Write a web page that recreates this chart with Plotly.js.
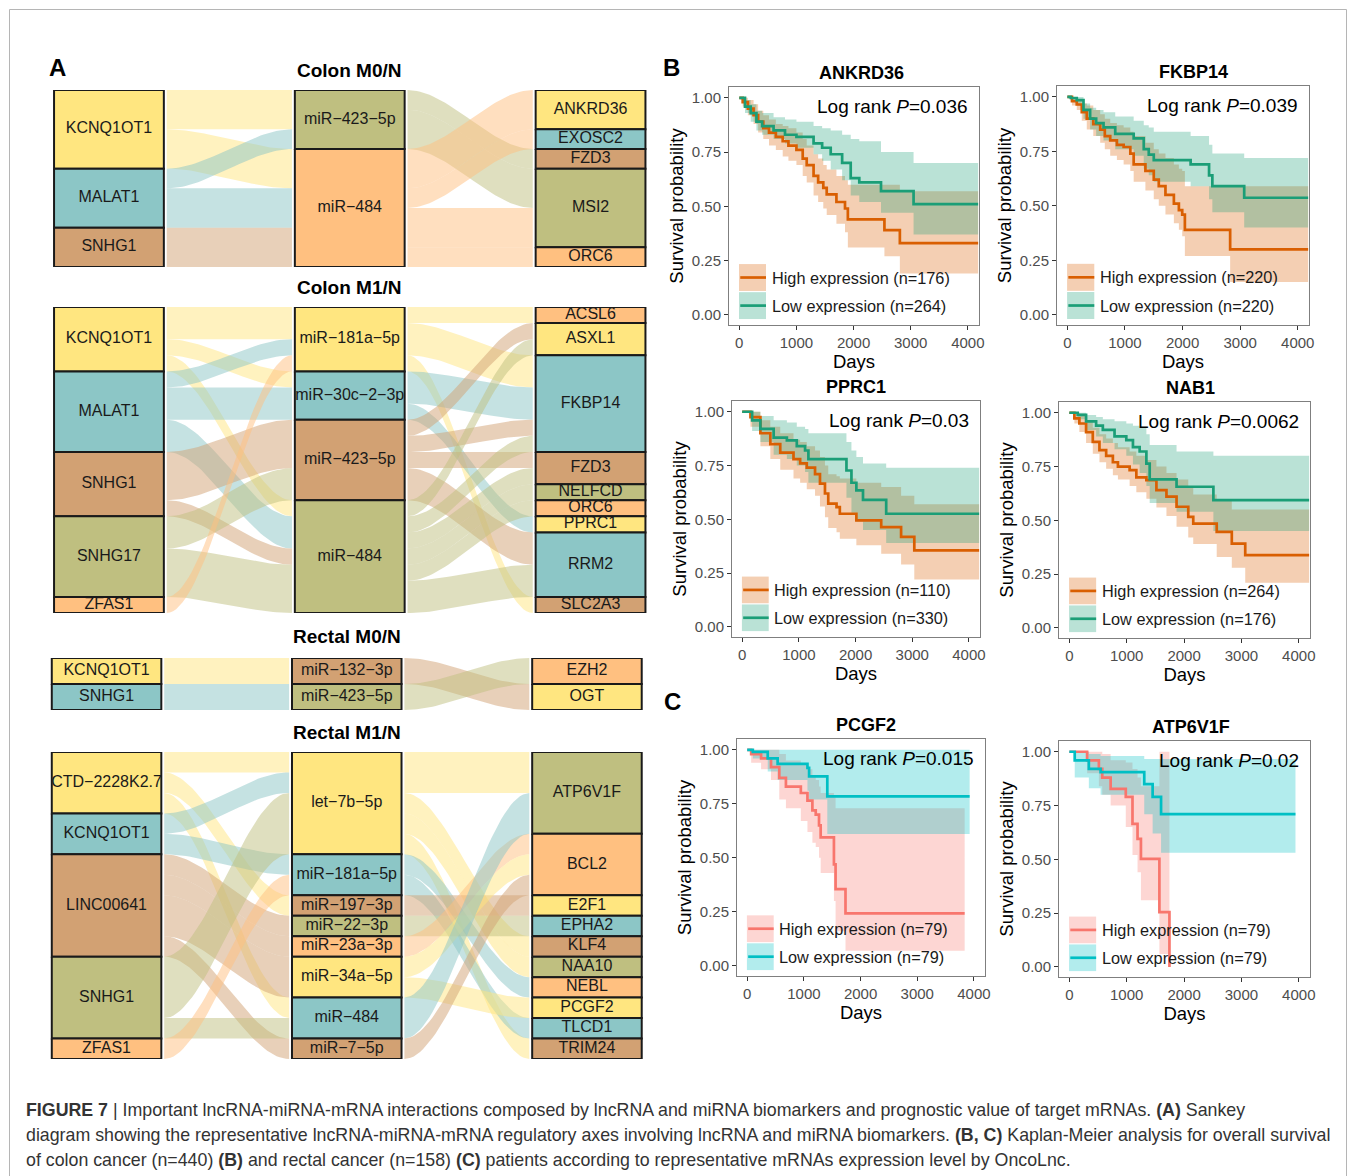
<!DOCTYPE html>
<html><head><meta charset="utf-8">
<script src="https://cdn.plot.ly/plotly-3.0.1.min.js"></script>
<style>body{margin:0;background:#fff}#chart{width:1357px;height:1176px}</style>
</head><body><div id="chart"></div>
<script>
// ---------------- DATA: Sankey (lncRNA -> miRNA -> mRNA) ----------------
// Colon M0/N
const cm0Lnc = ['KCNQ1OT1','MALAT1','SNHG1'];
const cm0Mir = ['miR−423−5p','miR−484'];
const cm0Mrna = ['ANKRD36','EXOSC2','FZD3','MSI2','ORC6'];
const cm0LncMirFrom = ['KCNQ1OT1','KCNQ1OT1','MALAT1','MALAT1','SNHG1'];
const cm0LncMirTo   = ['miR−423−5p','miR−484','miR−423−5p','miR−484','miR−484'];
const cm0LncMirN    = [2,2,1,2,2];
const cm0MirMrnaFrom = ['miR−423−5p','miR−423−5p','miR−484','miR−484','miR−484','miR−484'];
const cm0MirMrnaTo   = ['FZD3','MSI2','ANKRD36','EXOSC2','MSI2','ORC6'];
const cm0MirMrnaN    = [1,2,2,1,2,1];
// Colon M1/N
const cm1Lnc = ['KCNQ1OT1','MALAT1','SNHG1','SNHG17','ZFAS1'];
const cm1Mir = ['miR−181a−5p','miR−30c−2−3p','miR−423−5p','miR−484'];
const cm1Mrna = ['ACSL6','ASXL1','FKBP14','FZD3','NELFCD','ORC6','PPRC1','RRM2','SLC2A3'];
const cm1LncMirFrom = ['KCNQ1OT1','KCNQ1OT1','KCNQ1OT1','MALAT1','MALAT1','MALAT1','SNHG1','SNHG1','SNHG17','SNHG17','ZFAS1'];
const cm1LncMirTo   = ['miR−181a−5p','miR−30c−2−3p','miR−484','miR−181a−5p','miR−30c−2−3p','miR−484','miR−423−5p','miR−484','miR−423−5p','miR−484','miR−181a−5p'];
const cm1LncMirN    = [2,1,1,1,2,2,3,1,2,3,1];
const cm1MirMrnaFrom = ['miR−181a−5p','miR−181a−5p','miR−181a−5p','miR−30c−2−3p','miR−30c−2−3p','miR−423−5p','miR−423−5p','miR−423−5p','miR−423−5p','miR−484','miR−484','miR−484','miR−484','miR−484','miR−484'];
const cm1MirMrnaTo   = ['ACSL6','FKBP14','SLC2A3','FKBP14','PPRC1','ASXL1','FKBP14','FZD3','RRM2','ASXL1','FKBP14','FZD3','NELFCD','ORC6','RRM2'];
const cm1MirMrnaN    = [1,2,1,2,1,1,1,1,2,1,1,1,1,1,2];
// Rectal M0/N
const rm0Lnc = ['KCNQ1OT1','SNHG1'];
const rm0Mir = ['miR−132−3p','miR−423−5p'];
const rm0Mrna = ['EZH2','OGT'];
const rm0LncMirFrom = ['KCNQ1OT1','SNHG1'];
const rm0LncMirTo   = ['miR−132−3p','miR−423−5p'];
const rm0LncMirN    = [1,1];
const rm0MirMrnaFrom = ['miR−132−3p','miR−423−5p'];
const rm0MirMrnaTo   = ['OGT','EZH2'];
const rm0MirMrnaN    = [1,1];
// Rectal M1/N
const rm1Lnc = ['CTD−2228K2.7','KCNQ1OT1','LINC00641','SNHG1','ZFAS1'];
const rm1Mir = ['let−7b−5p','miR−181a−5p','miR−197−3p','miR−22−3p','miR−23a−3p','miR−34a−5p','miR−484','miR−7−5p'];
const rm1Mrna = ['ATP6V1F','BCL2','E2F1','EPHA2','KLF4','NAA10','NEBL','PCGF2','TLCD1','TRIM24'];
const rm1LncMirFrom = ['CTD−2228K2.7','CTD−2228K2.7','CTD−2228K2.7','KCNQ1OT1','KCNQ1OT1','LINC00641','LINC00641','LINC00641','LINC00641','SNHG1','SNHG1','ZFAS1'];
const rm1LncMirTo   = ['let−7b−5p','miR−197−3p','miR−484','let−7b−5p','miR−181a−5p','miR−22−3p','miR−23a−3p','miR−34a−5p','miR−7−5p','let−7b−5p','miR−484','miR−181a−5p'];
const rm1LncMirN    = [1,1,1,1,1,1,1,2,1,3,1,1];
const rm1MirMrnaFrom = ['let−7b−5p','let−7b−5p','let−7b−5p','let−7b−5p','miR−181a−5p','miR−181a−5p','miR−197−3p','miR−22−3p','miR−23a−3p','miR−34a−5p','miR−34a−5p','miR−484','miR−7−5p'];
const rm1MirMrnaTo   = ['ATP6V1F','KLF4','NAA10','TRIM24','NEBL','TLCD1','E2F1','EPHA2','BCL2','BCL2','PCGF2','ATP6V1F','BCL2'];
const rm1MirMrnaN    = [2,1,1,1,1,1,1,1,1,1,1,2,1];
const sankeyTitles = ['Colon M0/N','Colon M1/N','Rectal M0/N','Rectal M1/N'];

// ---------------- DATA: Kaplan-Meier curves ----------------
const kmGenes = ['ANKRD36','FKBP14','PPRC1','NAB1','PCGF2','ATP6V1F'];
const kmP = ['0.036','0.039','0.03','0.0062','0.015','0.02'];
const kmHighN = [176,220,110,264,79,79];
const kmLowN = [264,220,330,176,79,79];
const xTickVals = [0,1000,2000,3000,4000];
const xTickText = ['0','1000','2000','3000','4000'];
const yTickVals = [0,0.25,0.5,0.75,1];
const yTickText = ['0.00','0.25','0.50','0.75','1.00'];

// ANKRD36
const ankHighT = [0,60,150,250,330,420,520,640,760,860,1000,1110,1180,1300,1380,1470,1530,1700,1850,1900,2540,2810,4180];
const ankHighS = [1.0,0.98,0.95,0.92,0.89,0.86,0.84,0.82,0.80,0.78,0.76,0.72,0.69,0.64,0.61,0.585,0.555,0.52,0.49,0.44,0.39,0.33,0.33];
const ankHighHi = [1.0,1.0,0.99,0.97,0.94,0.92,0.90,0.88,0.87,0.86,0.84,0.81,0.78,0.74,0.72,0.69,0.67,0.64,0.62,0.60,0.60,0.57,0.57];
const ankHighLo = [1.0,0.96,0.92,0.88,0.84,0.81,0.78,0.76,0.73,0.71,0.69,0.64,0.61,0.55,0.52,0.49,0.46,0.42,0.38,0.31,0.27,0.19,0.19];
const ankLowT = [0,100,200,300,400,600,800,1000,1300,1450,1600,1800,1950,2100,2480,3050,4180];
const ankLowS = [1.0,0.96,0.93,0.89,0.87,0.85,0.83,0.82,0.79,0.77,0.74,0.70,0.63,0.61,0.57,0.51,0.51];
const ankLowHi = [1.0,0.99,0.97,0.94,0.93,0.91,0.90,0.89,0.87,0.86,0.85,0.83,0.81,0.80,0.75,0.70,0.70];
const ankLowLo = [1.0,0.93,0.89,0.85,0.83,0.81,0.79,0.77,0.74,0.71,0.67,0.62,0.55,0.52,0.47,0.37,0.37];
// FKBP14
const fkHighT = [0,80,163,250,337,450,570,650,744,860,977,1093,1151,1355,1500,1587,1703,1849,1936,1994,2040,2826,4180];
const fkHighS = [1.0,0.98,0.965,0.93,0.90,0.875,0.85,0.82,0.80,0.78,0.77,0.74,0.69,0.66,0.62,0.59,0.55,0.51,0.48,0.46,0.39,0.30,0.30];
const fkHighHi = [1.0,1.0,0.99,0.97,0.96,0.94,0.92,0.90,0.88,0.87,0.86,0.84,0.82,0.79,0.76,0.74,0.72,0.69,0.67,0.66,0.59,0.59,0.59];
const fkHighLo = [1.0,0.96,0.94,0.89,0.85,0.82,0.79,0.76,0.73,0.71,0.69,0.66,0.61,0.57,0.53,0.50,0.46,0.42,0.39,0.36,0.27,0.15,0.15];
const fkLowT = [0,60,163,280,395,500,628,831,1151,1326,1413,1500,2140,2460,2517,3070,4180];
const fkLowS = [1.0,0.995,0.985,0.94,0.90,0.88,0.86,0.83,0.81,0.76,0.735,0.71,0.69,0.64,0.59,0.537,0.537];
const fkLowHi = [1.0,1.0,1.0,0.97,0.95,0.94,0.93,0.91,0.89,0.87,0.86,0.84,0.82,0.78,0.74,0.72,0.72];
const fkLowLo = [1.0,0.98,0.96,0.90,0.85,0.82,0.80,0.76,0.73,0.67,0.64,0.61,0.59,0.53,0.47,0.40,0.40];
// PPRC1
const ppHighT = [0,146,321,496,671,905,1022,1139,1285,1372,1460,1518,1664,1722,2014,2452,2803,3036,4180];
const ppHighS = [1.0,0.975,0.90,0.85,0.81,0.78,0.76,0.74,0.71,0.666,0.62,0.573,0.557,0.526,0.495,0.464,0.418,0.356,0.356];
const ppHighHi = [1.0,1.0,0.96,0.93,0.90,0.87,0.86,0.84,0.82,0.79,0.75,0.71,0.70,0.69,0.67,0.65,0.61,0.57,0.57];
const ppHighLo = [1.0,0.93,0.84,0.78,0.73,0.69,0.67,0.64,0.61,0.56,0.51,0.46,0.44,0.41,0.38,0.34,0.29,0.22,0.22];
const ppLowT = [0,175,321,555,788,963,1109,1168,1839,1927,2014,2131,2540,4180];
const ppLowS = [1.0,0.96,0.92,0.88,0.867,0.84,0.82,0.78,0.727,0.67,0.635,0.59,0.526,0.526];
const ppLowHi = [1.0,1.0,0.98,0.96,0.95,0.93,0.92,0.90,0.86,0.82,0.79,0.76,0.74,0.74];
const ppLowLo = [1.0,0.91,0.86,0.80,0.78,0.75,0.72,0.67,0.60,0.53,0.49,0.45,0.39,0.39];
// NAB1
const nbHighT = [0,88,175,292,409,525,642,759,847,1051,1168,1343,1518,1693,1869,2073,2160,2569,2832,3066,4180];
const nbHighS = [1.0,0.974,0.95,0.91,0.865,0.826,0.80,0.77,0.75,0.733,0.70,0.687,0.64,0.61,0.563,0.516,0.485,0.446,0.392,0.338,0.338];
const nbHighHi = [1.0,1.0,0.99,0.96,0.93,0.90,0.88,0.86,0.84,0.82,0.80,0.78,0.75,0.72,0.69,0.65,0.62,0.59,0.55,0.55,0.55];
const nbHighLo = [1.0,0.95,0.91,0.86,0.81,0.77,0.74,0.71,0.69,0.66,0.63,0.60,0.56,0.52,0.47,0.42,0.39,0.33,0.28,0.21,0.21];
const nbLowT = [0,60,146,292,467,584,788,993,1109,1226,1343,1401,1869,2511,4180];
const nbLowS = [1.0,1.0,0.99,0.96,0.94,0.92,0.89,0.873,0.84,0.82,0.764,0.69,0.656,0.594,0.594];
const nbLowHi = [1.0,1.0,1.0,0.99,0.98,0.97,0.96,0.95,0.94,0.93,0.90,0.85,0.82,0.80,0.80];
const nbLowLo = [1.0,1.0,0.97,0.92,0.89,0.86,0.83,0.80,0.76,0.72,0.66,0.58,0.54,0.45,0.45];
// PCGF2
const pcHighT = [0,70,245,420,566,683,946,1063,1150,1209,1267,1296,1530,1559,1734,3836];
const pcHighS = [1.0,0.98,0.96,0.92,0.87,0.83,0.80,0.765,0.72,0.70,0.65,0.595,0.47,0.355,0.243,0.243];
const pcHighHi = [1.0,1.0,1.0,1.0,0.98,0.95,0.93,0.91,0.88,0.86,0.83,0.80,0.78,0.73,0.73,0.73];
const pcHighLo = [1.0,0.94,0.91,0.86,0.77,0.73,0.67,0.62,0.57,0.55,0.50,0.43,0.30,0.16,0.07,0.07];
const pcLowT = [0,99,362,537,1063,1092,1413,3924];
const pcLowS = [1.0,0.99,0.96,0.935,0.916,0.877,0.784,0.784];
const pcLowHi = [1.0,1.0,1.0,1.0,1.0,1.0,1.0,1.0];
const pcLowLo = [1.0,0.96,0.90,0.86,0.81,0.77,0.61,0.61];
// ATP6V1F
const atHighT = [0,310,515,574,720,984,1101,1189,1248,1570,1745];
const atHighS = [1.0,0.96,0.92,0.88,0.827,0.79,0.665,0.595,0.502,0.255,0.0];
const atHighHi = [1.0,1.0,1.0,0.99,0.96,0.95,0.92,0.88,0.84,1.0,1.0];
const atHighLo = [1.0,0.90,0.84,0.80,0.75,0.65,0.52,0.44,0.31,0.06,0.0];
const atLowT = [0,94,340,545,1306,1452,1599,3942];
const atLowS = [1.0,0.96,0.92,0.905,0.85,0.79,0.71,0.71];
const atLowHi = [1.0,1.0,0.99,0.98,0.966,0.966,0.966,0.966];
const atLowLo = [1.0,0.88,0.83,0.80,0.71,0.62,0.53,0.53];

// ---------------- STYLE / LAYOUT ----------------
const W = 1357, H = 1176;
const fx = p => p / W;
const fy = p => 1 - p / H;
const FONT = 'Liberation Sans, Arial, Helvetica, sans-serif';
const palette = ['#FFE680','#8CC6C6','#D2A173','#BFBF80','#FFC080'];
function rgba(hex, a){const v=parseInt(hex.slice(1),16);return 'rgba('+((v>>16)&255)+','+((v>>8)&255)+','+(v&255)+','+a+')';}

const traces = [];
const layout = {width:W, height:H, margin:{l:0,r:0,t:0,b:0}, paper_bgcolor:'#ffffff', plot_bgcolor:'rgba(0,0,0,0)',
  showlegend:false, font:{family:FONT}, annotations:[], shapes:[]};

const sankeys = [
  {lnc:cm0Lnc, mir:cm0Mir, mrna:cm0Mrna, f1:[cm0LncMirFrom,cm0LncMirTo,cm0LncMirN], f2:[cm0MirMrnaFrom,cm0MirMrnaTo,cm0MirMrnaN], px:[48.75,650.75], py:[90,267], ty:70},
  {lnc:cm1Lnc, mir:cm1Mir, mrna:cm1Mrna, f1:[cm1LncMirFrom,cm1LncMirTo,cm1LncMirN], f2:[cm1MirMrnaFrom,cm1MirMrnaTo,cm1MirMrnaN], px:[48.75,650.75], py:[307,613], ty:287},
  {lnc:rm0Lnc, mir:rm0Mir, mrna:rm0Mrna, f1:[rm0LncMirFrom,rm0LncMirTo,rm0LncMirN], f2:[rm0MirMrnaFrom,rm0MirMrnaTo,rm0MirMrnaN], px:[46.5,647], py:[658,710], ty:636},
  {lnc:rm1Lnc, mir:rm1Mir, mrna:rm1Mrna, f1:[rm1LncMirFrom,rm1LncMirTo,rm1LncMirN], f2:[rm1MirMrnaFrom,rm1MirMrnaTo,rm1MirMrnaN], px:[46.5,647], py:[752,1059], ty:732}
];

function axName(n){return n===1?'':String(n);}

function buildSankey(s, n, title){
  const xa='x'+axName(n), ya='y'+axName(n);
  const cols=[s.lnc,s.mir,s.mrna];
  const segs=[{c:0,from:s.f1[0],to:s.f1[1],w:s.f1[2]},{c:1,from:s.f2[0],to:s.f2[1],w:s.f2[2]}];
  const size=cols.map(col=>{const o={};col.forEach(k=>o[k]=0);return o;});
  segs[0].from.forEach((f,i)=>{size[0][f]+=segs[0].w[i];size[1][segs[0].to[i]]+=segs[0].w[i];});
  segs[1].to.forEach((t,i)=>{size[2][t]+=segs[1].w[i];});
  const top=cols.map((col,c)=>{let acc=0;const o={};col.forEach(k=>{o[k]=acc;acc+=size[c][k];});return o;});
  const total=s.lnc.reduce((a,k)=>a+size[0][k],0);
  let gi=0;
  const colorOf=cols.map(col=>{const o={};col.forEach(k=>{o[k]=palette[gi%5];gi++;});return o;});
  const HW=0.228, GAP=0.012, NP=40;
  segs.forEach(seg=>{
    const c=seg.c, A=cols[c], B=cols[c+1];
    const idx=seg.from.map((_,i)=>i);
    const outOff=Object.assign({},top[c]), inOff=Object.assign({},top[c+1]);
    const ya0={}, yb0={};
    idx.slice().sort((i,j)=>(A.indexOf(seg.from[i])-A.indexOf(seg.from[j]))||(B.indexOf(seg.to[i])-B.indexOf(seg.to[j])))
      .forEach(i=>{ya0[i]=outOff[seg.from[i]];outOff[seg.from[i]]+=seg.w[i];});
    idx.slice().sort((i,j)=>(B.indexOf(seg.to[i])-B.indexOf(seg.to[j]))||(A.indexOf(seg.from[i])-A.indexOf(seg.from[j])))
      .forEach(i=>{yb0[i]=inOff[seg.to[i]];inOff[seg.to[i]]+=seg.w[i];});
    const xL=c+HW+GAP, xR=c+1-HW-GAP;
    idx.forEach(i=>{
      const xs=[],ys=[],w=seg.w[i];
      for(let q=0;q<=NP;q++){const t=q/NP,e=t*t*(3-2*t);xs.push(xL+(xR-xL)*t);ys.push(ya0[i]+(yb0[i]-ya0[i])*e);}
      for(let q=NP;q>=0;q--){const t=q/NP,e=t*t*(3-2*t);xs.push(xL+(xR-xL)*t);ys.push(ya0[i]+w+(yb0[i]-ya0[i])*e);}
      traces.push({type:'scatter',mode:'lines',x:xs,y:ys,xaxis:xa,yaxis:ya,fill:'toself',
        fillcolor:rgba(colorOf[c][seg.from[i]],0.5),line:{width:0},hoverinfo:'skip',showlegend:false});
    });
  });
  const lx=[],ly=[],lt=[];
  cols.forEach((col,c)=>col.forEach(k=>{
    const y0=top[c][k],y1=y0+size[c][k];
    traces.push({type:'scatter',mode:'lines',x:[c-HW,c+HW,c+HW,c-HW,c-HW],y:[y0,y0,y1,y1,y0],xaxis:xa,yaxis:ya,
      fill:'toself',fillcolor:colorOf[c][k],line:{color:'#1a1a1a',width:2},hoverinfo:'skip',showlegend:false});
    lx.push(c);ly.push((y0+y1)/2);lt.push(k);
  }));
  traces.push({type:'scatter',mode:'text',x:lx,y:ly,text:lt,xaxis:xa,yaxis:ya,cliponaxis:false,
    textfont:{family:FONT,size:16,color:'#1a1a1a'},hoverinfo:'skip',showlegend:false});
  layout['xaxis'+axName(n)]={domain:[fx(s.px[0]),fx(s.px[1])],range:[-0.25,2.25],visible:false,fixedrange:true,anchor:ya};
  layout['yaxis'+axName(n)]={domain:[fy(s.py[1]),fy(s.py[0])],range:[total,0],visible:false,fixedrange:true,anchor:xa};
  layout.annotations.push({xref:'paper',yref:'paper',x:fx((s.px[0]+s.px[1])/2),y:fy(s.ty),text:'<b>'+title+'</b>',
    showarrow:false,xanchor:'center',yanchor:'middle',font:{family:FONT,size:19,color:'#000'}});
}
sankeys.forEach((s,i)=>buildSankey(s,i+1,sankeyTitles[i]));

// ---------------- KM plots ----------------
const colB = {high:'#D95F02', low:'#1B9E77'};
const colC = {high:'#F8766D', low:'#00BFC4'};
const kmCfg = [
  {box:[729,87,979,325], tx:861, col:colB, high:[ankHighT,ankHighS,ankHighHi,ankHighLo], low:[ankLowT,ankLowS,ankLowHi,ankLowLo]},
  {box:[1057,86,1309,325], tx:1193, col:colB, high:[fkHighT,fkHighS,fkHighHi,fkHighLo], low:[fkLowT,fkLowS,fkLowHi,fkLowLo]},
  {box:[732,401,980,637], tx:856, col:colB, high:[ppHighT,ppHighS,ppHighHi,ppHighLo], low:[ppLowT,ppLowS,ppLowHi,ppLowLo]},
  {box:[1059,402,1310,638], tx:1190, col:colB, high:[nbHighT,nbHighS,nbHighHi,nbHighLo], low:[nbLowT,nbLowS,nbLowHi,nbLowLo]},
  {box:[737,739,985,976], tx:866, col:colC, high:[pcHighT,pcHighS,pcHighHi,pcHighLo], low:[pcLowT,pcLowS,pcLowHi,pcLowLo]},
  {box:[1059,741,1310,977], tx:1191, col:colC, high:[atHighT,atHighS,atHighHi,atHighLo], low:[atLowT,atLowS,atLowHi,atLowLo]}
];

kmCfg.forEach((k,i)=>{
  const n=5+i, xa='x'+n, ya='y'+n;
  const [l,t,r,b]=k.box;
  const axCommon={showgrid:false,zeroline:false,showline:true,mirror:true,linecolor:'#7f7f7f',linewidth:1,
    ticks:'outside',ticklen:4,tickwidth:1,tickcolor:'#333',tickfont:{family:FONT,size:15,color:'#4d4d4d'},fixedrange:true};
  layout['xaxis'+n]=Object.assign({},axCommon,{domain:[fx(l),fx(r)],range:[-180,4195],tickvals:xTickVals,ticktext:xTickText,anchor:ya,
    title:{text:'Days',font:{family:FONT,size:18.5,color:'#000'},standoff:3}});
  layout['yaxis'+n]=Object.assign({},axCommon,{domain:[fy(b),fy(t)],range:[-0.047,1.05],tickvals:yTickVals,ticktext:yTickText,anchor:xa,
    title:{text:'Survival probability',font:{family:FONT,size:18.5,color:'#000'},standoff:3}});
  const groups=[[k.high,k.col.high],[k.low,k.col.low]];
  groups.forEach(([g,c])=>{
    traces.push({type:'scatter',mode:'lines',x:g[0],y:g[2],xaxis:xa,yaxis:ya,line:{width:0,shape:'hv'},hoverinfo:'skip',showlegend:false});
    traces.push({type:'scatter',mode:'lines',x:g[0],y:g[3],xaxis:xa,yaxis:ya,line:{width:0,shape:'hv'},fill:'tonexty',fillcolor:rgba(c,0.3),hoverinfo:'skip',showlegend:false});
  });
  groups.forEach(([g,c])=>{
    traces.push({type:'scatter',mode:'lines',x:g[0],y:g[1],xaxis:xa,yaxis:ya,line:{width:2.7,color:c,shape:'hv'},hoverinfo:'skip',showlegend:false});
  });
  const xd=xa+' domain', yd=ya+' domain';
  layout.annotations.push({xref:'paper',yref:yd,x:fx(k.tx),y:1,yshift:14,text:'<b>'+kmGenes[i]+'</b>',showarrow:false,xanchor:'center',yanchor:'middle',
    font:{family:FONT,size:18,color:'#000'}});
  layout.annotations.push({xref:xd,yref:yd,x:0.964,y:0.918,text:'Log rank <i>P</i>='+kmP[i],showarrow:false,xanchor:'right',yanchor:'middle',
    font:{family:FONT,size:19,color:'#000'}});
  const legend=[['High expression (n='+kmHighN[i]+')',k.col.high,0.143,0.256],['Low expression (n='+kmLowN[i]+')',k.col.low,0.025,0.138]];
  legend.forEach(([txt,c,y0,y1])=>{
    layout.shapes.push({type:'rect',xref:xd,yref:yd,x0:0.04,x1:0.148,y0:y0,y1:y1,fillcolor:rgba(c,0.3),line:{width:0},layer:'above'});
    layout.shapes.push({type:'line',xref:xd,yref:yd,x0:0.045,x1:0.148,y0:(y0+y1)/2,y1:(y0+y1)/2,line:{color:c,width:2.7},layer:'above'});
    layout.annotations.push({xref:xd,yref:yd,x:0.162,y:(y0+y1)/2,text:txt,showarrow:false,xanchor:'left',yanchor:'middle',
      font:{family:FONT,size:16.3,color:'#1a1a1a'}});
  });
});

// ---------------- panel letters, border, caption ----------------
[['A',57,68],['B',671,68],['C',672,701]].forEach(([t,x,y])=>layout.annotations.push({xref:'paper',yref:'paper',x:fx(x),y:fy(y),
  text:'<b>'+t+'</b>',showarrow:false,xanchor:'center',yanchor:'middle',font:{family:FONT,size:24,color:'#000'}}));
layout.shapes.push({type:'rect',xref:'paper',yref:'paper',x0:fx(9.5),x1:fx(1346.5),y0:-0.05,y1:fy(9.5),line:{color:'#b5b5b5',width:1},fillcolor:'rgba(0,0,0,0)',layer:'below'});
const caption = [
  '<b>FIGURE 7</b> | Important lncRNA-miRNA-mRNA interactions composed by lncRNA and miRNA biomarkers and prognostic value of target mRNAs. <b>(A)</b> Sankey',
  'diagram showing the representative lncRNA-miRNA-mRNA regulatory axes involving lncRNA and miRNA biomarkers. <b>(B, C)</b> Kaplan-Meier analysis for overall survival',
  'of colon cancer (n=440) <b>(B)</b> and rectal cancer (n=158) <b>(C)</b> patients according to representative mRNAs expression level by OncoLnc.'
];
caption.forEach((t,i)=>layout.annotations.push({xref:'paper',yref:'paper',x:fx(24),y:fy(1110+25*i),text:t,showarrow:false,xanchor:'left',yanchor:'middle',
  font:{family:FONT,size:17.8,color:'#333'}}));

Plotly.newPlot('chart',traces,layout,{displayModeBar:false,staticPlot:true});
</script></body></html>
